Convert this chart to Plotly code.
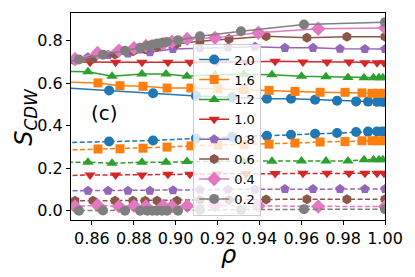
import plotly.graph_objects as go

labels = ["2.0", "1.6", "1.2", "1.0", "0.8", "0.6", "0.4", "0.2"]

rho_20 = [0.847, 0.8682, 0.8892, 0.9097, 0.9269, 0.9436, 0.9551, 0.9666, 0.9771, 0.9862, 0.9919, 0.9962, 0.9986, 1.0]
hi_20 = [0.578, 0.565, 0.552, 0.540, 0.533, 0.527, 0.527, 0.522, 0.517, 0.514, 0.513, 0.512, 0.512, 0.512]
lo_20 = [0.320, 0.325, 0.330, 0.340, 0.347, 0.352, 0.357, 0.362, 0.365, 0.370, 0.372, 0.373, 0.373, 0.373]

rho_16 = [0.840, 0.8629, 0.8734, 0.8844, 0.8959, 0.9073, 0.9202, 0.9326, 0.9446, 0.9570, 0.9690, 0.9809, 0.9890, 0.9938, 0.9967, 1.0]
hi_16 = [0.607, 0.601, 0.588, 0.585, 0.577, 0.577, 0.573, 0.570, 0.566, 0.561, 0.557, 0.557, 0.554, 0.552, 0.552, 0.552]
lo_16 = [0.283, 0.290, 0.291, 0.294, 0.299, 0.305, 0.308, 0.311, 0.313, 0.318, 0.323, 0.325, 0.329, 0.329, 0.329, 0.329]

rho_12 = [0.845, 0.8581, 0.8696, 0.8839, 0.8954, 0.9054, 0.9188, 0.9326, 0.9460, 0.9601, 0.9718, 0.9823, 0.9900, 0.9945, 0.9971, 0.9990]
hi_12 = [0.655, 0.653, 0.632, 0.643, 0.643, 0.632, 0.640, 0.642, 0.640, 0.632, 0.630, 0.627, 0.625, 0.625, 0.625, 0.625]
lo_12 = [0.228, 0.228, 0.223, 0.228, 0.228, 0.231, 0.232, 0.233, 0.233, 0.234, 0.234, 0.234, 0.239, 0.239, 0.239, 0.239]

rho_10 = [0.840, 0.8591, 0.8713, 0.8839, 0.8963, 0.9068, 0.9197, 0.9336, 0.9475, 0.9608, 0.9723, 0.9828, 0.9904, 0.9962, 0.9995]
hi_10 = [0.700, 0.698, 0.698, 0.698, 0.698, 0.698, 0.700, 0.700, 0.703, 0.700, 0.700, 0.700, 0.696, 0.696, 0.696]
lo_10 = [0.162, 0.168, 0.168, 0.168, 0.171, 0.171, 0.173, 0.174, 0.175, 0.176, 0.176, 0.176, 0.176, 0.176, 0.176]

rho_08 = [0.840, 0.8581, 0.8677, 0.8772, 0.8877, 0.8987, 0.9116, 0.9250, 0.9379, 0.9522, 0.9656, 0.9785, 0.9904, 1.0]
hi_08 = [0.700, 0.722, 0.733, 0.740, 0.745, 0.761, 0.765, 0.768, 0.771, 0.766, 0.766, 0.762, 0.761, 0.761]
lo_08 = [0.093, 0.094, 0.094, 0.094, 0.094, 0.096, 0.098, 0.100, 0.100, 0.102, 0.102, 0.102, 0.102, 0.102]

rho_06 = [0.840, 0.8519, 0.8605, 0.8710, 0.8796, 0.8854, 0.8911, 0.9006, 0.9116, 0.9255, 0.9432, 0.9627, 0.9818, 1.0]
hi_06 = [0.690, 0.705, 0.715, 0.735, 0.750, 0.760, 0.770, 0.785, 0.797, 0.808, 0.821, 0.813, 0.818, 0.818]
lo_06 = [0.045, 0.046, 0.047, 0.047, 0.047, 0.047, 0.047, 0.047, 0.050, 0.050, 0.052, 0.054, 0.054, 0.054]

rho_04 = [0.840, 0.8519, 0.8627, 0.8729, 0.8801, 0.8858, 0.8940, 0.8983, 0.9055, 0.9188, 0.9395, 0.9681, 1.0]
hi_04 = [0.683, 0.714, 0.742, 0.753, 0.765, 0.775, 0.785, 0.795, 0.808, 0.813, 0.837, 0.856, 0.860]
lo_04 = [0.020, 0.020, 0.025, 0.020, 0.022, 0.020, 0.022, 0.020, 0.022, 0.025, 0.022, 0.019, 0.019]

rho_02 = [0.840, 0.8538, 0.8653, 0.8758, 0.8830, 0.8865, 0.8889, 0.8911, 0.8935, 0.8959, 0.9011, 0.9116, 0.9312, 0.9613, 1.0]
hi_02 = [0.683, 0.711, 0.734, 0.752, 0.767, 0.776, 0.782, 0.786, 0.790, 0.794, 0.802, 0.821, 0.844, 0.876, 0.887]
lo_02 = [0.000, 0.000, 0.001, 0.000, 0.000, 0.000, 0.000, 0.000, 0.000, 0.000, 0.000, 0.003, 0.005, 0.007, 0.007]

x_ticks = [0.86, 0.88, 0.90, 0.92, 0.94, 0.96, 0.98, 1.00]
y_ticks = [0.0, 0.2, 0.4, 0.6, 0.8]

series = [
    (labels[0], rho_20, hi_20, lo_20, "#1f77b4", "circle", 10),
    (labels[1], rho_16, hi_16, lo_16, "#ff7f0e", "square", 9),
    (labels[2], rho_12, hi_12, lo_12, "#2ca02c", "triangle-up", 10),
    (labels[3], rho_10, hi_10, lo_10, "#d62728", "triangle-down", 10),
    (labels[4], rho_08, hi_08, lo_08, "#9467bd", "pentagon", 10),
    (labels[5], rho_06, hi_06, lo_06, "#8c564b", "hexagon", 10),
    (labels[6], rho_04, hi_04, lo_04, "#e377c2", "diamond", 11),
    (labels[7], rho_02, hi_02, lo_02, "#7f7f7f", "circle", 10),
]

fig = go.Figure()
for name, rho, hi, lo, col, sym, sz in series:
    fig.add_trace(go.Scatter(
        x=rho, y=hi, mode="lines+markers", name=name,
        line=dict(color=col, width=1.5),
        marker=dict(symbol=sym, size=sz, color=col, line=dict(width=0)),
        showlegend=True,
    ))
    fig.add_trace(go.Scatter(
        x=rho, y=lo, mode="lines+markers", name=name,
        line=dict(color=col, width=1.5, dash="5px,2.5px"),
        marker=dict(symbol=sym, size=sz, color=col, line=dict(width=0)),
        showlegend=False,
    ))

axis_common = dict(
    showgrid=False, zeroline=False, showline=True, linecolor="black", linewidth=1,
    mirror=True, ticks="outside", ticklen=4, tickcolor="black", tickwidth=1,
    tickfont=dict(family="DejaVu Sans", size=16, color="black"),
)

fig.update_xaxes(range=[0.85, 1.0], tickvals=x_ticks, tickformat=".2f", **axis_common)
fig.update_yaxes(range=[-0.044, 0.93], tickvals=y_ticks, tickformat=".1f", **axis_common)

# page body has an 8px margin, so the figure is laid out 8px smaller
fig.update_layout(
    width=407, height=269,
    margin=dict(l=63, r=30, t=5, b=57),
    plot_bgcolor="white", paper_bgcolor="white",
    font=dict(family="DejaVu Sans", color="black"),
    legend=dict(
        x=0.389, y=0.852, xanchor="left", yanchor="top",
        bgcolor="rgba(255,255,255,0.8)", bordercolor="#cccccc", borderwidth=1,
        font=dict(family="DejaVu Sans", size=13, color="black"),
        itemwidth=30,
    ),
    annotations=[
        dict(text="(c)", x=0.108, y=0.518, xref="paper", yref="paper",
             xanchor="center", yanchor="middle",
             showarrow=False, font=dict(family="DejaVu Sans", size=20, color="black")),
        dict(text="<i>ρ</i>", x=0.5, y=-0.17, xref="paper", yref="paper",
             xanchor="center", yanchor="middle",
             showarrow=False, font=dict(family="DejaVu Sans", size=24, color="black")),
        dict(text="<i>S</i><sub><i>CDW</i></sub>", x=-0.146, y=0.5, xref="paper", yref="paper",
             xanchor="center", yanchor="middle",
             textangle=-90, showarrow=False,
             font=dict(family="DejaVu Sans", size=24, color="black")),
    ],
)

fig.write_html("out.html")
